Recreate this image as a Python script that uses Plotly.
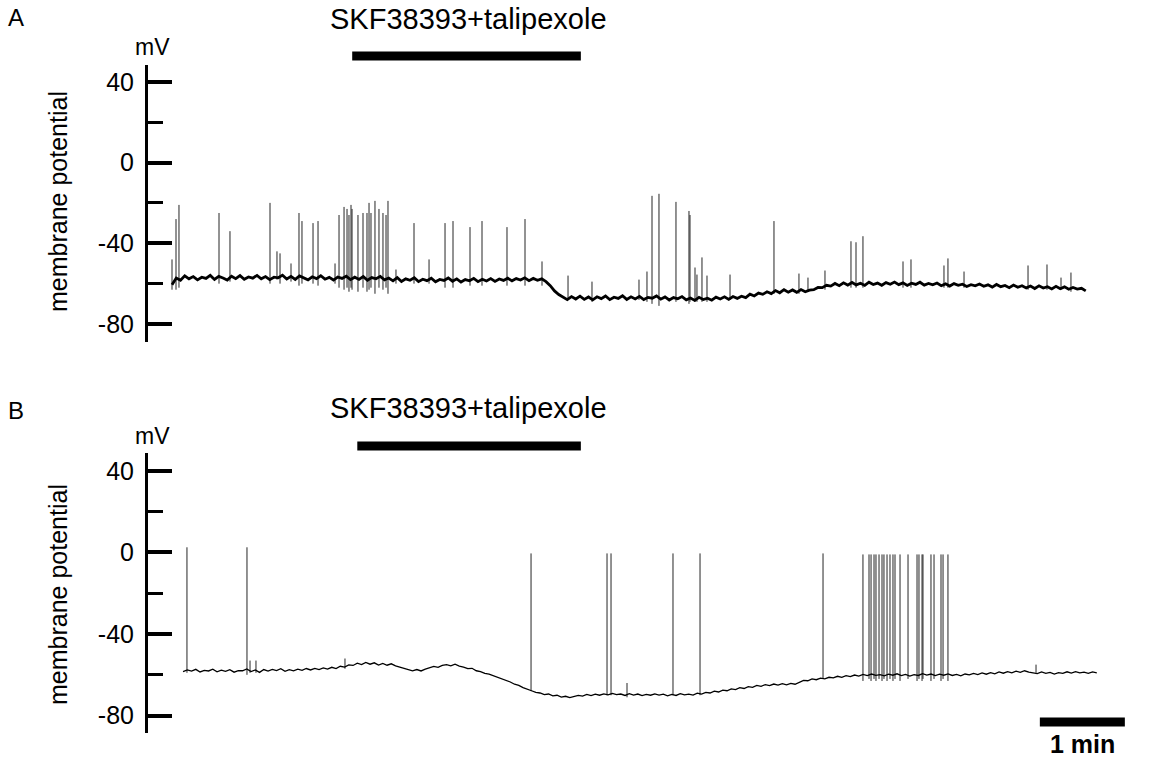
import plotly.graph_objects as go

# ---------------- data ----------------
# time in minutes (common frame), membrane potential in mV
A_T0, A_DT = 0.0, 0.05
A_BASE = [-60.5, -57.2, -58.3, -56.1, -57.6, -56.5, -58.1, -56.8, -57.4, -55.9,
          -57.9, -56.4, -57.2, -58.2, -56.3, -57.5, -56.0, -57.8, -56.7, -57.3,
          -55.9, -57.6, -56.5, -58.0, -56.8, -57.1, -55.8, -57.7, -56.4, -57.9,
          -56.2, -57.3, -58.1, -56.6, -57.5, -56.1, -57.8, -56.9, -58.2, -56.7,
          -57.4, -56.3, -58.0, -56.8, -57.9, -56.5, -58.3, -57.0, -57.6, -56.4,
          -58.1, -57.2, -58.6, -57.0, -58.9, -57.6, -58.3, -57.1, -59.0, -57.8,
          -58.5, -57.3, -59.1, -57.9, -58.4, -57.2, -58.8, -57.6, -59.2, -58.0,
          -58.6, -57.4, -59.0, -57.8, -58.7, -57.5, -58.9, -57.7, -58.4, -57.3,
          -58.6, -57.5, -58.2, -57.1, -58.5, -57.4, -58.3, -57.6, -59.0, -61.0,
          -63.6, -65.4, -66.8, -67.9, -66.4, -67.6, -66.2, -67.8, -66.6, -68.0,
          -66.5, -67.4, -66.1, -67.9, -66.7, -67.3, -66.0, -67.8, -66.5, -67.6,
          -66.3, -67.9, -66.8, -67.2, -66.1, -67.7, -66.6, -68.1, -66.9, -67.5,
          -66.4, -68.0, -67.1, -68.3, -66.8, -67.9, -67.2, -68.2, -66.7, -67.6,
          -66.5, -67.8, -66.4, -67.3, -66.2, -66.9, -65.2, -66.1, -64.7, -65.3,
          -64.0, -64.9, -63.4, -64.5, -63.0, -64.2, -63.1, -64.3, -62.9, -64.0,
          -63.2, -63.0, -61.9, -62.0, -60.8, -61.2, -59.9, -61.0, -59.6, -60.7,
          -59.4, -60.6, -59.8, -60.9, -59.3, -60.4, -59.7, -60.8, -59.5, -60.3,
          -59.2, -60.5, -59.6, -60.9, -59.8, -60.4, -59.3, -60.7, -59.9, -60.6,
          -59.7, -61.0, -60.1, -61.2, -60.0, -60.8, -60.3, -61.4, -60.5, -61.1,
          -60.2, -61.3, -60.6, -61.7, -60.4, -61.5, -60.9, -62.0, -60.7, -61.8,
          -61.0, -62.1, -61.2, -62.4, -61.1, -62.2, -61.5, -62.6, -61.3, -62.5,
          -61.6, -62.8, -61.9, -62.7, -62.3, -63.6]

A_SPIKE_T = [0.0, 0.047, 0.082, 0.553, 0.682, 1.153, 1.235, 1.271, 1.400, 1.494,
             1.529, 1.659, 1.718, 1.918, 1.965, 2.024, 2.059, 2.082, 2.106, 2.118,
             2.188, 2.247, 2.294, 2.318, 2.341, 2.388, 2.435, 2.482, 2.518, 2.541,
             2.635, 2.847, 3.024, 3.212, 3.306, 3.506, 3.647, 3.941, 4.153, 4.353,
             4.659, 4.941, 5.494, 5.588, 5.647, 5.729, 5.929, 6.082, 6.094, 6.153,
             6.176, 6.235, 6.294, 6.565, 7.082, 7.376, 7.482, 7.682, 7.988, 8.047,
             8.129, 8.600, 8.694, 9.082, 9.129, 9.318, 10.071, 10.294, 10.459, 10.576]
A_SPIKE_PEAK = [-48, -28, -21, -25, -34, -20, -44, -45, -50, -25,
                -29, -30, -29, -50, -26, -22, -23, -26, -21, -23,
                -26, -25, -25, -20, -25, -19, -23, -25, -26, -19,
                -53, -30, -48, -30, -29, -32, -29, -32, -28, -49,
                -56, -59, -58, -54, -16.5, -15.5, -19.5, -24, -26, -52,
                -55.5, -47, -56, -55.5, -29, -55, -57, -53.5, -39, -39.5,
                -36.5, -49, -48, -51, -47.5, -54, -51, -50.5, -57, -54.5]
A_SPIKE_LOW = [-63, -63, -62, -60, -59, -60, -58, -60, -59, -61,
               -60, -60, -61, -60, -62, -63, -62, -64, -62, -63,
               -64, -62, -64, -63, -62, -65, -62, -63, -62, -65,
               -60, -60, -60, -62, -62, -61, -61, -61, -61, -61,
               -68, -69, -68, -69, -70, -71, -69, -70, -69, -69,
               -69, -69, -69, -68, -65, -65, -64, -63, -62, -62,
               -62, -62, -62, -62, -62, -62, -63, -63, -63, -64]

B_T0, B_DT = 0.13, 0.05
B_BASE = [-58.4, -57.6, -58.2, -57.3, -58.6, -57.8, -58.1, -57.2, -58.5, -57.7,
          -58.3, -57.5, -58.7, -57.9, -58.0, -57.1, -58.4, -57.6, -58.8, -57.4,
          -58.2, -57.3, -57.9, -57.0, -58.3, -57.5, -58.0, -57.2, -57.8, -56.9,
          -57.6, -56.8, -57.4, -56.6, -57.2, -56.3, -56.9, -55.8, -56.2, -55.1,
          -55.4, -54.3, -55.0, -53.9, -54.8, -54.1, -55.2, -54.4, -55.3, -54.6,
          -55.6, -56.2, -56.9, -57.5, -58.0, -57.4, -58.1, -57.2, -56.6, -55.9,
          -56.3, -55.4, -55.0, -55.6, -54.8, -55.7, -56.2, -57.0, -56.8, -58.0,
          -58.4, -59.3, -59.6, -60.4, -60.9, -61.8, -62.6, -63.5, -64.6, -65.2,
          -66.3, -66.9, -67.8, -68.6, -68.9, -69.7, -69.4, -70.3, -70.0, -70.9,
          -70.5, -71.2, -70.6, -70.1, -70.4, -69.6, -70.2, -69.5, -70.0, -69.3,
          -69.8, -69.1, -69.7, -69.4, -70.1, -69.2, -69.9, -69.4, -70.2, -69.6,
          -70.0, -69.3, -69.9, -69.5, -70.3, -69.6, -70.1, -69.2, -69.8, -69.5,
          -69.9, -69.0, -69.4, -68.6, -68.9, -68.0, -68.4, -67.5, -67.8, -66.9,
          -67.2, -66.3, -66.7, -65.8, -66.1, -65.2, -65.6, -64.8, -65.3, -64.5,
          -65.0, -64.3, -64.9, -64.2, -64.6, -63.5, -62.7, -62.9, -62.0, -62.4,
          -61.6, -62.0, -61.2, -61.5, -60.7, -61.2, -60.4, -60.9, -60.1, -60.6,
          -59.8, -60.4, -59.6, -60.3, -59.9, -60.5, -59.7, -60.2, -59.5, -60.4,
          -59.8, -60.6, -59.9, -60.3, -59.4, -60.1, -59.6, -60.4, -59.7, -60.2,
          -59.5, -60.3, -59.8, -60.5, -59.6, -60.0, -59.3, -59.9, -59.1, -59.7,
          -58.9, -59.5, -58.6, -59.2, -58.4, -59.0, -58.2, -58.8, -58.0, -58.7,
          -58.9, -59.4, -58.6, -59.3, -58.8, -59.6, -58.9, -59.3, -58.5, -59.1,
          -58.4, -59.0, -58.7, -59.3, -58.6, -59.0]

B_SPIKE_T = [0.176, 0.882, 0.918, 0.988, 2.035, 4.224, 5.118, 5.165, 5.353, 5.894,
             6.212, 7.659, 8.129, 8.200, 8.224, 8.259, 8.282, 8.318, 8.353, 8.376,
             8.412, 8.447, 8.482, 8.506, 8.565, 8.659, 8.765, 8.788, 8.824, 8.835,
             8.929, 8.965, 9.047, 9.071, 9.129, 10.165]
B_SPIKE_PEAK = [2.5, 2.5, -53, -53, -52, -0.5, -0.5, -0.5, -64, -0.5,
                -0.5, -0.5, -1, -1, -1, -1, -1, -1, -1, -1,
                -1, -1, -1, -1, -1, -1, -1, -1, -1, -1,
                -1, -1, -1, -1, -1, -55]
B_SPIKE_LOW = [-59, -60, -59, -59, -57, -68, -70, -70, -71, -70,
               -70, -62, -63, -62, -63, -62, -63, -62, -63, -62,
               -63, -62, -63, -62, -63, -62, -63, -62, -63, -62,
               -63, -62, -63, -62, -63, -59]

DRUG_A = [2.12, 4.81]
DRUG_B = [2.18, 4.81]
DRUG_LABEL = "SKF38393+talipexole"
SCALE_BAR = [10.21, 11.21]   # 1 min
Y_TICKS = [40, 0, -40, -80]
Y_TICK_TEXT = ["40", "0", "-40", "-80"]
Y_MINOR = [20, -20, -60]

# ---------------- figure ----------------
W, H = 1154, 759
FONT = "Liberation Sans, Arial, Helvetica, sans-serif"
X_RANGE = [-172 / 85, (W - 172) / 85]


def spike_xy(ts, peaks, lows):
    xs, ys = [], []
    for t, p, l in zip(ts, peaks, lows):
        xs += [t, t, None]
        ys += [l, p, None]
    return xs, ys


fig = go.Figure()

a_t = [A_T0 + A_DT * i for i in range(len(A_BASE))]
b_t = [B_T0 + B_DT * i for i in range(len(B_BASE))]

sx, sy = spike_xy(A_SPIKE_T, A_SPIKE_PEAK, A_SPIKE_LOW)
fig.add_trace(go.Scatter(x=sx, y=sy, mode="lines", line=dict(color="#262626", width=1),
                         xaxis="x", yaxis="y", hoverinfo="skip", showlegend=False))
fig.add_trace(go.Scatter(x=a_t, y=A_BASE, mode="lines", line=dict(color="black", width=2.8),
                         xaxis="x", yaxis="y", showlegend=False))

sx, sy = spike_xy(B_SPIKE_T, B_SPIKE_PEAK, B_SPIKE_LOW)
fig.add_trace(go.Scatter(x=sx, y=sy, mode="lines", line=dict(color="#262626", width=1),
                         xaxis="x2", yaxis="y2", hoverinfo="skip", showlegend=False))
fig.add_trace(go.Scatter(x=b_t, y=B_BASE, mode="lines", line=dict(color="black", width=1.3),
                         xaxis="x2", yaxis="y2", showlegend=False))


def yaxis_cfg(dom_px, rng):
    return dict(
        domain=[1 - dom_px[1] / H, 1 - dom_px[0] / H], range=rng,
        anchor="free", position=146 / W, showline=True, linecolor="black", linewidth=3,
        ticks="inside", ticklen=24, tickwidth=3.5, tickcolor="black",
        tickvals=Y_TICKS, ticktext=Y_TICK_TEXT, ticklabelstandoff=6,
        tickfont=dict(family=FONT, size=25, color="black"),
        minor=dict(ticks="inside", ticklen=15, tickwidth=3, tickcolor="black", tickvals=Y_MINOR),
        showgrid=False, zeroline=False, fixedrange=True,
    )


fig.update_layout(
    width=W, height=H, margin=dict(l=0, r=0, t=0, b=0),
    paper_bgcolor="white", plot_bgcolor="white",
    xaxis=dict(domain=[0, 1], range=X_RANGE, visible=False, anchor="y"),
    xaxis2=dict(domain=[0, 1], range=X_RANGE, visible=False, anchor="y2"),
    yaxis=yaxis_cfg((65, 342), [-88.9, 48.3]),
    yaxis2=yaxis_cfg((453, 733), [-88.5, 48.7]),
    showlegend=False,
)

# drug application bars and scale bar (drawn in data x units)
fig.add_shape(type="line", xref="x", yref="paper", x0=DRUG_A[0], x1=DRUG_A[1],
              y0=1 - 56 / H, y1=1 - 56 / H, line=dict(color="black", width=9))
fig.add_shape(type="line", xref="x2", yref="paper", x0=DRUG_B[0], x1=DRUG_B[1],
              y0=1 - 446 / H, y1=1 - 446 / H, line=dict(color="black", width=9))
fig.add_shape(type="line", xref="x2", yref="paper", x0=SCALE_BAR[0], x1=SCALE_BAR[1],
              y0=1 - 722 / H, y1=1 - 722 / H, line=dict(color="black", width=9))


def ann(text, x, y, size, bold=False, angle=0):
    fig.add_annotation(text=f"<b>{text}</b>" if bold else text, x=x, y=y, xref="paper", yref="paper",
                       xanchor="center", yanchor="middle", showarrow=False, textangle=angle,
                       font=dict(family=FONT, size=size, color="black"))


ann("A", 16 / W, 1 - 18 / H, 24)
ann("B", 16 / W, 1 - 410 / H, 24)
ann(DRUG_LABEL, 468 / W, 1 - 19 / H, 29)
ann(DRUG_LABEL, 468 / W, 1 - 408 / H, 29)
ann("mV", 152 / W, 1 - 47 / H, 23)
ann("mV", 152 / W, 1 - 436 / H, 23)
ann("membrane potential", 58 / W, 1 - 202 / H, 25, angle=-90)
ann("membrane potential", 58 / W, 1 - 595 / H, 25, angle=-90)
ann("1 min", 1082 / W, 1 - 744 / H, 25, bold=True)

# remove the browser's default 8px body margin so the figure sits at the page origin
fig.write_html("out.html", config={"displayModeBar": False},
               post_script="document.body.style.margin='0px';")
